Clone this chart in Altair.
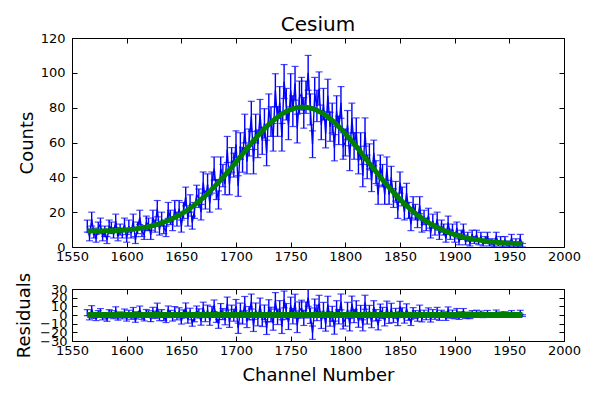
import altair as alt
import numpy as np
import pandas as pd

# one reading every second channel, 1564 ... 1962
channels = list(range(1564, 1963, 2))

counts = [
    12, 6, 16, 8, 5, 11, 13, 6, 9, 4, 12, 11, 8, 15, 6, 10, 8, 13, 5,
    12, 8, 15, 4, 11, 17, 9, 7, 14, 13, 7, 17, 12, 22, 10, 16, 11, 9, 21, 17,
    13, 22, 16, 22, 12, 21, 29, 16, 25, 14, 21, 30, 28, 20, 37, 27, 36, 25, 37, 45,
    33, 27, 45, 41, 36, 56, 36, 50, 47, 59, 35, 58, 50, 68, 49, 60, 75, 49, 68, 59,
    76, 61, 71, 54, 79, 72, 63, 90, 72, 83, 63, 95, 82, 70, 90, 78, 94, 68, 86, 88,
    77, 86, 100, 79, 59, 88, 81, 91, 70, 82, 65, 87, 69, 74, 57, 78, 67, 83, 58, 60,
    70, 51, 74, 58, 66, 49, 58, 41, 66, 46, 52, 38, 54, 43, 30, 46, 41, 30, 45, 30,
    40, 28, 32, 21, 37, 29, 20, 31, 21, 13, 24, 20, 15, 24, 12, 17, 13, 18, 8, 15,
    10, 16, 7, 12, 10, 5, 14, 7, 10, 5, 11, 3, 7, 10, 3, 6, 2, 7, 4, 7,
    3, 6, 2, 4, 6, 2, 3, 1, 6, 2, 4, 1, 4, 2, 1, 5, 1, 3, 1, 5, 1,
]

# green fitted curve read at the same channels
fit = [
    9.2, 9.2, 9.2, 9.2, 9.2, 9.2, 9.2, 9.2, 9.3, 9.3, 9.3, 9.3, 9.4, 9.4, 9.5, 9.6, 9.6, 9.7, 9.8,
    10.0, 10.1, 10.2, 10.4, 10.6, 10.8, 11.0, 11.2, 11.4, 11.7, 12.0, 12.3, 12.6, 13.0, 13.4, 13.8, 14.3, 14.7, 15.2, 15.8,
    16.4, 17.0, 17.6, 18.3, 19.0, 19.7, 20.5, 21.4, 22.2, 23.2, 24.2, 25.1, 26.2, 27.3, 28.3, 29.5, 30.6, 31.9, 33.2, 34.4,
    35.8, 37.2, 38.5, 39.9, 41.3, 42.8, 44.3, 45.7, 47.3, 48.8, 50.3, 51.9, 53.4, 54.9, 56.5, 58.0, 59.5, 61.0, 62.4, 63.8,
    65.2, 66.5, 67.9, 69.1, 70.3, 71.5, 72.6, 73.6, 74.5, 75.5, 76.4, 77.1, 77.8, 78.4, 78.9, 79.4, 79.7, 80.0, 80.2, 80.3,
    80.3, 80.2, 80.0, 79.8, 79.4, 79.0, 78.5, 77.8, 77.2, 76.5, 75.6, 74.7, 73.6, 72.6, 71.6, 70.3, 69.1, 67.9, 66.5, 65.1,
    63.7, 62.2, 60.8, 59.2, 57.7, 56.2, 54.5, 52.9, 51.3, 49.7, 48.1, 46.5, 44.9, 43.3, 41.7, 40.2, 38.6, 37.1, 35.7, 34.2,
    32.8, 31.4, 30.0, 28.7, 27.3, 26.1, 24.9, 23.7, 22.6, 21.5, 20.4, 19.4, 18.3, 17.5, 16.5, 15.6, 14.8, 14.0, 13.3, 12.6,
    11.8, 11.2, 10.6, 10.0, 9.5, 9.0, 8.4, 8.0, 7.5, 7.1, 6.8, 6.3, 6.0, 5.7, 5.4, 5.1, 4.8, 4.6, 4.4, 4.1,
    4.0, 3.8, 3.6, 3.4, 3.2, 3.1, 3.0, 2.8, 2.7, 2.6, 2.5, 2.4, 2.3, 2.2, 2.2, 2.1, 2.0, 1.9, 1.9, 1.8, 1.7,
]

x_ticks = list(range(1550, 2001, 50))
count_ticks = list(range(0, 121, 20))
resid_ticks = list(range(-30, 31, 10))

BLUE = "#0000ff"
GREEN = "#008000"
W = 492

df = pd.DataFrame({"channel": channels, "counts": counts, "fit": fit})
df["err"] = np.sqrt(df["counts"])
df["lo"] = df["counts"] - df["err"]
df["hi"] = df["counts"] + df["err"]
df["resid"] = df["counts"] - df["fit"]
df["rlo"] = df["resid"] - df["err"]
df["rhi"] = df["resid"] + df["err"]
df["zero"] = 0.0

xs = alt.Scale(domain=[1550, 2000], nice=False, zero=False)


def panel(value, lo, hi, line, line_w, y_dom, y_ticks, y_title, x_title, h, y_pad, t_pad):
    ys = alt.Scale(domain=y_dom, nice=False, zero=False)
    base = alt.Chart(df)

    # labelled axes, ticks drawn separately pointing inwards
    bars = base.mark_rule(color=BLUE, strokeWidth=1.4, clip=True).encode(
        x=alt.X("channel:Q", scale=xs,
                axis=alt.Axis(values=x_ticks, ticks=False, tickSize=0, domain=False, grid=False,
                              labelPadding=3, labelFlush=False, format="d", title=x_title,
                              titlePadding=9)),
        y=alt.Y(f"{lo}:Q", scale=ys,
                axis=alt.Axis(values=y_ticks, ticks=False, tickSize=0, domain=False, grid=False,
                              labelPadding=y_pad, labelOverlap=False, labelFlush=False,
                              format="d", title=y_title, titlePadding=t_pad)),
        y2=f"{hi}:Q",
    )
    caps_lo = base.mark_tick(color=BLUE, orient="horizontal", size=7, thickness=1.2, clip=True).encode(
        x=alt.X("channel:Q", scale=xs, axis=None),
        y=alt.Y(f"{lo}:Q", scale=ys, axis=None),
    )
    caps_hi = base.mark_tick(color=BLUE, orient="horizontal", size=7, thickness=1.2, clip=True).encode(
        x=alt.X("channel:Q", scale=xs, axis=None),
        y=alt.Y(f"{hi}:Q", scale=ys, axis=None),
    )
    data_line = base.mark_line(color=BLUE, strokeWidth=1.4, clip=True).encode(
        x=alt.X("channel:Q", scale=xs, axis=None),
        y=alt.Y(f"{value}:Q", scale=ys, axis=None),
    )
    fit_line = base.mark_line(color=GREEN, strokeWidth=line_w, clip=True).encode(
        x=alt.X("channel:Q", scale=xs, axis=None),
        y=alt.Y(f"{line}:Q", scale=ys, axis=None),
    )

    def inner(xo, yo):
        return base.mark_point(opacity=0).encode(
            x=alt.X("channel:Q", scale=xs,
                    axis=alt.Axis(orient=xo, offset=-h, values=x_ticks, labels=False, tickSize=5,
                                  domain=False, grid=False, title=None)),
            y=alt.Y(f"{value}:Q", scale=ys,
                    axis=alt.Axis(orient=yo, offset=-W, values=y_ticks, labels=False, tickSize=5,
                                  domain=False, grid=False, title=None)),
        )

    return alt.layer(
        data_line, bars, caps_lo, caps_hi, fit_line, inner("top", "right"), inner("bottom", "left")
    ).resolve_axis(x="independent", y="independent").properties(width=W, height=h)


top = panel("counts", "lo", "hi", "fit", 5, [0, 120], count_ticks, "Counts", None, 209, 7, 4).properties(
    title=alt.Title("Cesium", anchor="middle", frame="group", offset=-3)
)
bottom = panel("resid", "rlo", "rhi", "zero", 6, [-30, 30], resid_ticks, "Residuals", "Channel Number", 52, 5, 6)

chart = alt.vconcat(top, bottom, spacing=7).properties(
    padding={"left": 7, "top": 6, "right": 10, "bottom": 5}
).configure_axis(
    labelFont="DejaVu Sans", labelFontSize=13, labelColor="black",
    titleFont="DejaVu Sans", titleFontSize=18, titleFontWeight="normal", titleColor="black",
    tickColor="black", tickWidth=1,
).configure_title(
    font="DejaVu Sans", fontSize=20, fontWeight="normal", color="black"
).configure_view(stroke="black", strokeWidth=1)

chart.save("out.html", embed_options={"renderer": "svg", "actions": False})
